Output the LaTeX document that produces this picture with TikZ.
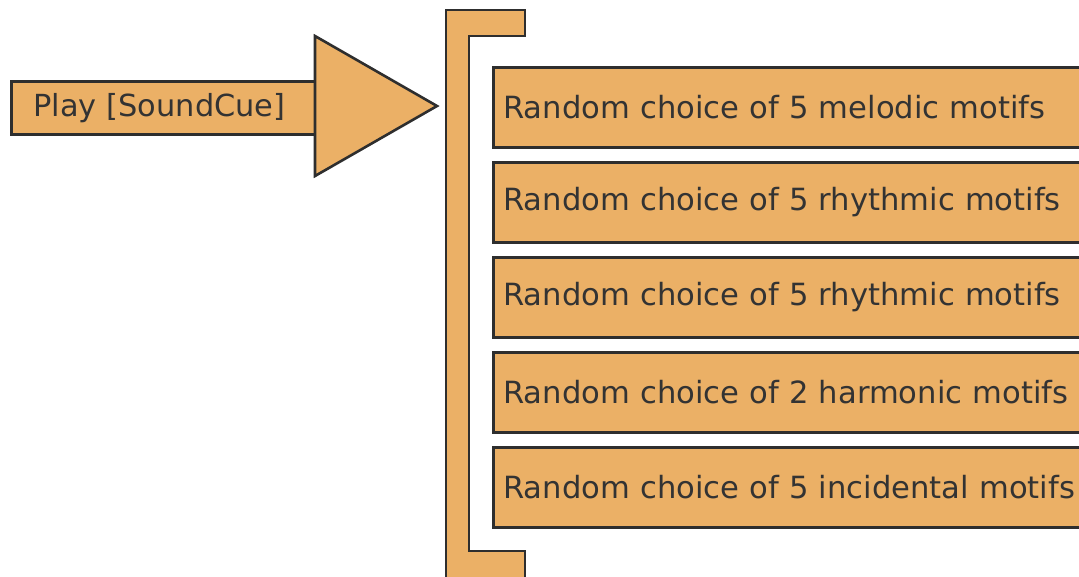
\documentclass[tikz,border=0pt]{standalone}
\usepackage{fontspec}
\setmainfont{DejaVu Sans}
\definecolor{boxfill}{HTML}{EBB066}
\definecolor{edge}{HTML}{2E2E2E}
\definecolor{txt}{HTML}{333333}
\begin{document}
\begin{tikzpicture}[x=1pt,y=-1pt,
  shape outline/.style={draw=edge,line width=2.6pt,fill=boxfill,line join=miter},
  motif/.style={shape outline,rectangle,anchor=north west,minimum width=620pt,minimum height=80pt,
    text width=620pt,align=left,inner sep=0pt,font=\fontsize{30.6}{34}\selectfont,text=txt},
  playbox/.style={shape outline,rectangle,anchor=north west,minimum width=305pt,minimum height=53pt,
    text width=305pt,align=left,inner sep=0pt,font=\fontsize{30.4}{34}\selectfont,text=txt}]
\useasboundingbox (0,0) rectangle (1079,576);
\clip (0,0) rectangle (1079,576);
% play box and arrow head
\node[playbox] (play) at (10,80) {\hspace*{22pt}Play [SoundCue]};
\draw[shape outline] (315,36) coordinate (tb) -- (437,106) coordinate (tip) -- (315,176) coordinate (bb) -- cycle;
% bracket
\draw[shape outline] (446,10) -- (525,10) -- (525,36) -- (469,36) -- (469,551) -- (525,551) -- (525,590) -- (446,590) -- cycle;
% motif boxes
\node[motif] (m1) at (492,66)  {\hspace*{10pt}Random choice of 5 melodic motifs};
\node[motif] (m2) at (492,161) {\hspace*{10pt}Random choice of 5 rhythmic motifs};
\node[motif] (m3) at (492,256) {\hspace*{10pt}Random choice of 5 rhythmic motifs};
\node[motif] (m4) at (492,351) {\hspace*{10pt}Random choice of 2 harmonic motifs};
\node[motif] (m5) at (492,446) {\hspace*{10pt}Random choice of 5 incidental motifs};
\end{tikzpicture}
\end{document}
